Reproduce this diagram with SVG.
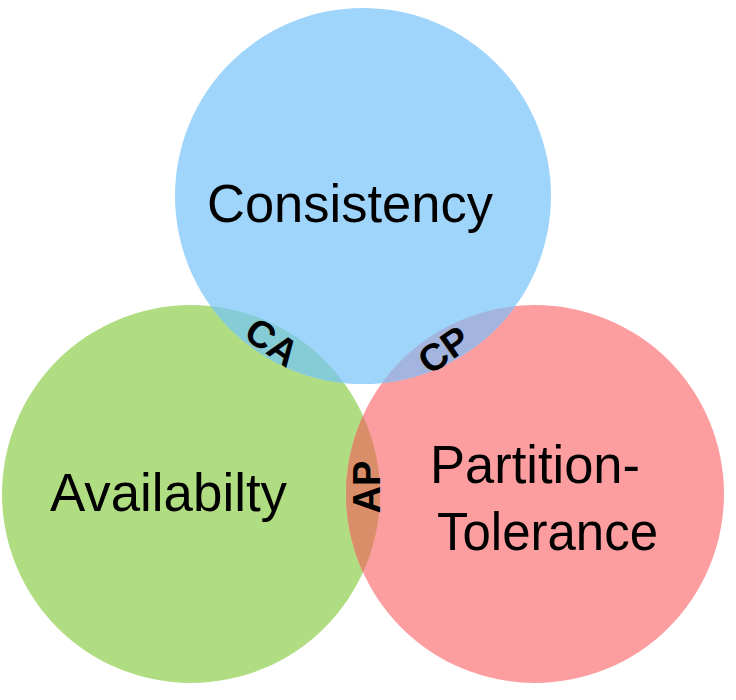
<svg xmlns="http://www.w3.org/2000/svg" width="736" height="700" viewBox="0 0 736 700">
<style>
.big{font-family:"Liberation Sans",Arial,sans-serif;font-size:53px;fill:#000}
.sm{font-family:"Liberation Sans",Arial,sans-serif;font-size:38px;font-weight:bold;fill:#000;text-anchor:middle;dominant-baseline:central}
</style>
<defs>
<clipPath id="cC"><circle cx="363" cy="196" r="188"/></clipPath>
<clipPath id="cA"><circle cx="191" cy="494" r="189"/></clipPath>
<clipPath id="cP"><circle cx="535" cy="494" r="189"/></clipPath>
</defs>
<rect width="736" height="700" fill="#fff"/>
<g id="availability">
<circle cx="191" cy="494" r="189" fill="#B0DC82"/>
</g>
<g id="partition">
<circle cx="535" cy="494" r="189" fill="#FC9EA0"/>
</g>
<g id="consistency">
<circle cx="363" cy="196" r="188" fill="#A0D5FB"/>
</g>
<g id="overlaps">
<circle cx="191" cy="494" r="189" fill="#86CCD6" clip-path="url(#cC)"/>
<circle cx="535" cy="494" r="189" fill="#A3B5DE" clip-path="url(#cC)"/>
<circle cx="535" cy="494" r="189" fill="#D98D68" clip-path="url(#cA)"/>
</g>
<g id="labels">
<text class="big" x="207" y="222" textLength="286" lengthAdjust="spacingAndGlyphs">Consistency</text>
<text class="big" x="50" y="511" textLength="237" lengthAdjust="spacingAndGlyphs">Availabilty</text>
<text class="big" x="430" y="483" textLength="210" lengthAdjust="spacingAndGlyphs">Partition-</text>
<text class="big" x="437" y="550" textLength="221" lengthAdjust="spacingAndGlyphs">Tolerance</text>
<text class="sm" transform="translate(272,342) rotate(35)">CA</text>
<text class="sm" transform="translate(444,350) rotate(-35)">CP</text>
<text class="sm" transform="translate(367,487) rotate(-90)">AP</text>
</g>
</svg>
